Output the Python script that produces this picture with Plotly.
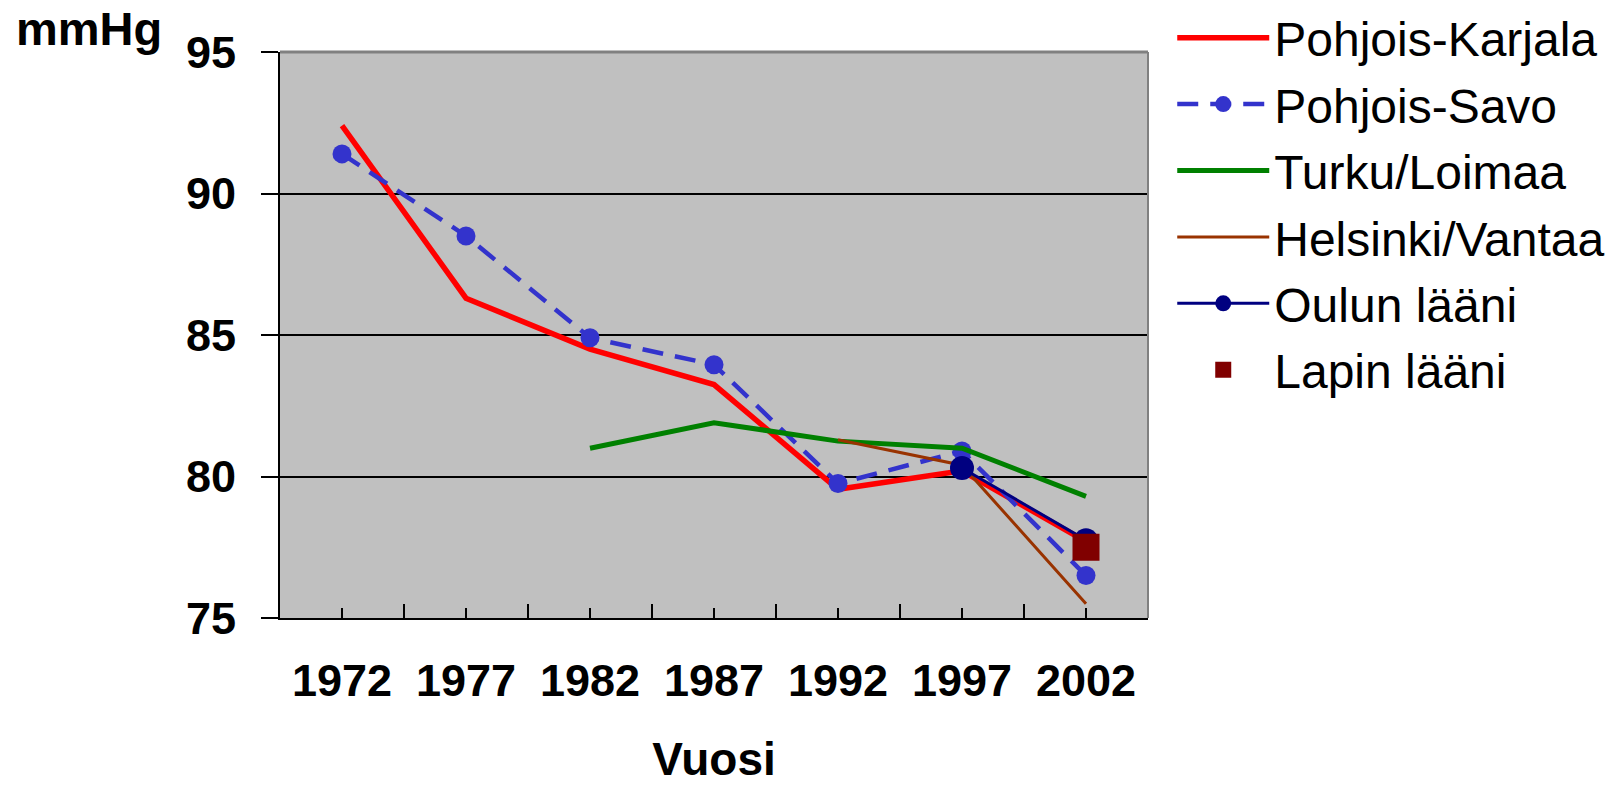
import plotly.graph_objects as go

years = [1972, 1977, 1982, 1987, 1992, 1997, 2002]
year_labels = ["1972", "1977", "1982", "1987", "1992", "1997", "2002"]
pohjois_karjala = [92.4, 86.3, 84.5, 83.25, 79.55, 80.2, 77.7]
pohjois_savo = [91.4, 88.5, 84.9, 83.95, 79.75, 80.9, 76.5]
turku_loimaa = [None, None, 81.0, 81.9, 81.25, 81.0, 79.3]
helsinki_vantaa = [None, None, None, None, 81.3, 80.4, 75.5]
oulun_laani = [None, None, None, None, None, 80.3, 77.75]
lapin_laani = [None, None, None, None, None, None, 77.5]
y_ticks = [75, 80, 85, 90, 95]

FONT = "Liberation Sans, Arial, sans-serif"

fig = go.Figure()
fig.add_trace(go.Scatter(x=years, y=pohjois_karjala, name="Pohjois-Karjala", mode="lines",
                         line=dict(color="#FF0000", width=5.5), legendgroup="a"))
fig.add_trace(go.Scatter(x=years, y=pohjois_savo, name="Pohjois-Savo", mode="lines+markers",
                         line=dict(color="#3333CC", width=4.5, dash="21px,12px"),
                         marker=dict(color="#3333CC", size=19), legendgroup="b"))
fig.add_trace(go.Scatter(x=years, y=turku_loimaa, name="Turku/Loimaa", mode="lines",
                         line=dict(color="#008000", width=5), legendgroup="c"))
fig.add_trace(go.Scatter(x=years, y=helsinki_vantaa, name="Helsinki/Vantaa", mode="lines",
                         line=dict(color="#993300", width=3), legendgroup="d"))
fig.add_trace(go.Scatter(x=years, y=oulun_laani, name="Oulun lääni", mode="lines+markers",
                         line=dict(color="#000080", width=3),
                         marker=dict(color="#000080", size=24), legendgroup="e"))
fig.add_trace(go.Scatter(x=years, y=lapin_laani, name="Lapin lääni", mode="markers",
                         marker=dict(color="#800000", size=27, symbol="square"), legendgroup="f"))

fig.update_layout(
    width=1618, height=785,
    margin=dict(l=280, r=470, t=52, b=167),
    paper_bgcolor="white", plot_bgcolor="#C0C0C0",
    font=dict(family=FONT, size=45, color="black"),
    showlegend=True,
    legend=dict(xref="container", yref="container", x=0.7245, y=1.0,
                xanchor="left", yanchor="top", bgcolor="rgba(0,0,0,0)",
                font=dict(family=FONT, size=48, color="black"),
                itemwidth=92, tracegroupgap=1, maxheight=1),
    xaxis=dict(range=[1969.5, 2004.5], tickvals=years, ticktext=year_labels,
               ticks="inside", ticklen=10, tickwidth=2, tickcolor="black",
               minor=dict(tick0=1969.5, dtick=5, ticks="inside", ticklen=14, tickwidth=2,
                          tickcolor="black", showgrid=False),
               showgrid=False, zeroline=False, showline=True, linecolor="black", linewidth=2,
               tickfont=dict(family=FONT, size=45, color="black", weight="bold"),
               ticklabelstandoff=22, automargin=False,
               title=dict(text="Vuosi", standoff=44,
                          font=dict(family=FONT, size=46, color="black", weight="bold"))),
    yaxis=dict(range=[75, 95], tickvals=y_ticks, ticks="outside", ticklen=17, tickwidth=2,
               tickcolor="black", showgrid=True, gridcolor="black", gridwidth=2,
               zeroline=False, showline=True, linecolor="black", linewidth=2,
               tickfont=dict(family=FONT, size=45, color="black", weight="bold"),
               ticklabelstandoff=16, automargin=False),
    shapes=[
        dict(type="line", xref="paper", yref="paper", x0=0, x1=1, y0=1, y1=1,
             line=dict(color="#808080", width=3), layer="above"),
        dict(type="line", xref="paper", yref="paper", x0=1, x1=1, y0=0, y1=1,
             line=dict(color="#808080", width=2), layer="above"),
    ],
    annotations=[
        dict(text="mmHg", xref="paper", yref="paper", x=-0.307, y=1.042, xanchor="left",
             yanchor="middle", showarrow=False,
             font=dict(family=FONT, size=47, color="black", weight="bold")),
    ],
)

fig.write_html("out.html", config={"displayModeBar": False},
               post_script="document.body.style.margin='0px';document.body.style.padding='0px';"
                           "document.body.style.overflow='hidden';")
